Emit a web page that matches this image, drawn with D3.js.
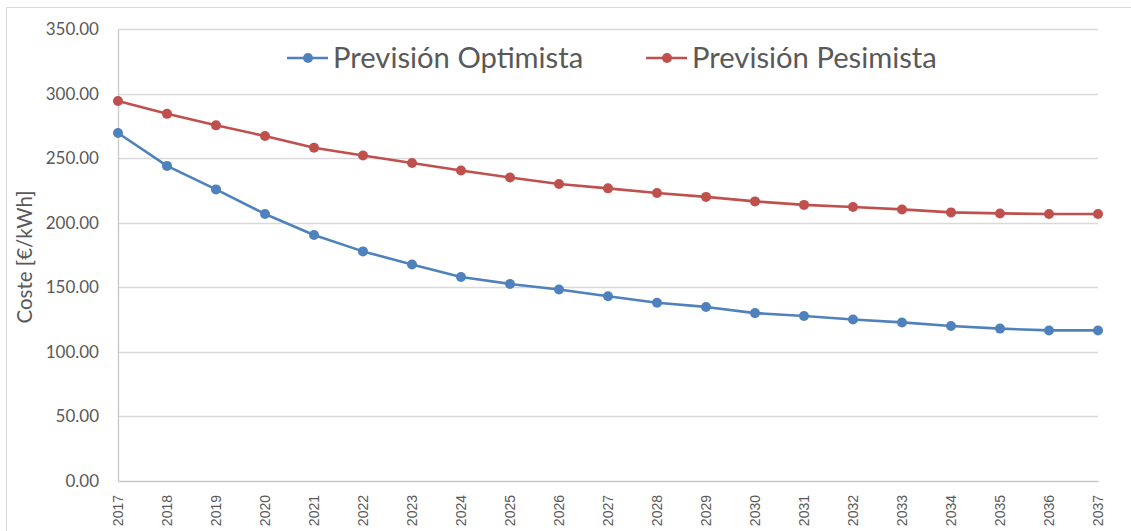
<!DOCTYPE html>
<html lang="es">
<head>
  <meta charset="UTF-8">
  <title>Previsión de coste</title>
  <script src="https://d3js.org/d3.v7.min.js"></script>
  <style>
    body { margin: 0; background: #fff; }
    svg { display: block; font-family: 'Lato', 'Open Sans', sans-serif; }
  </style>
</head>
<body>
  <svg width="1131" height="531"></svg>
  <script>
    // data
    const years = d3.range(2017, 2038).map(String);
    const optimista = [269.5, 244, 225.8, 206.8, 190.5, 177.8, 167.7, 158, 152.6, 148.3, 143, 138, 134.8, 130, 127.8, 125, 122.8, 120, 118, 116.6, 116.6];
    const pesimista = [294.3, 284.3, 275.4, 267.2, 258, 252, 246.3, 240.5, 235, 230, 226.6, 223, 220, 216.5, 213.8, 212.2, 210.3, 208, 207.2, 206.8, 206.8];
    const yTicks = [0, 50, 100, 150, 200, 250, 300, 350];
    const series = [
      { name: "Previsión Optimista", values: optimista, color: "#4f81bd" },
      { name: "Previsión Pesimista", values: pesimista, color: "#c0504d" }
    ];

    const svg = d3.select("svg");
    const margin = { left: 118, right: 33, top: 29, bottom: 50 };
    const width = 1131, height = 531;

    // outer frame
    svg.append("rect")
      .attr("x", 6.5).attr("y", 7.5)
      .attr("width", 1130).attr("height", 530)
      .attr("fill", "none").attr("stroke", "#d9d9d9");

    const x = d3.scalePoint().domain(years).range([margin.left, width - margin.right]);
    const y = d3.scaleLinear().domain([0, 350]).range([height - margin.bottom, margin.top]);

    // gridlines
    svg.append("g").selectAll("line")
      .data(yTicks.filter(d => d > 0))
      .join("line")
      .attr("x1", margin.left).attr("x2", width - margin.right)
      .attr("y1", d => Math.round(y(d)) + 0.5).attr("y2", d => Math.round(y(d)) + 0.5)
      .attr("stroke", "#d9d9d9").attr("stroke-width", 1.3);

    // y axis
    const yAxis = svg.append("g")
      .attr("transform", `translate(${margin.left},0)`)
      .call(d3.axisLeft(y).tickValues(yTicks).tickFormat(d3.format(".2f")).tickSize(0).tickPadding(19));
    yAxis.select(".domain").attr("stroke", "#c8c8c8").attr("stroke-width", 1.3);
    yAxis.selectAll("text").attr("fill", "#595959").attr("font-size", 17).attr("font-family", "'Lato', sans-serif");

    // x axis
    const xAxis = svg.append("g")
      .attr("transform", `translate(0,${y(0)})`)
      .call(d3.axisBottom(x).tickSize(0).tickPadding(0));
    xAxis.select(".domain").attr("stroke", "#c8c8c8").attr("stroke-width", 1.3);
    xAxis.selectAll("text")
      .attr("fill", "#595959").attr("font-size", 14).attr("font-family", "'Liberation Sans', Arial, sans-serif")
      .attr("transform", "rotate(-90)")
      .attr("text-anchor", "end")
      .attr("x", -14).attr("y", 0).attr("dy", "0.35em");

    // y title
    svg.append("text")
      .attr("transform", `translate(32,257) rotate(-90)`)
      .attr("text-anchor", "middle")
      .attr("fill", "#595959").attr("font-size", 20.5)
      .text("Coste [€/kWh]");

    // lines
    const line = d3.line().x((d, i) => x(years[i])).y(d => y(d));
    series.forEach(s => {
      svg.append("path")
        .datum(s.values)
        .attr("fill", "none").attr("stroke", s.color)
        .attr("stroke-width", 2.6).attr("stroke-linejoin", "round")
        .attr("d", line);
      svg.append("g").selectAll("circle")
        .data(s.values)
        .join("circle")
        .attr("cx", (d, i) => x(years[i])).attr("cy", d => y(d))
        .attr("r", 5).attr("fill", s.color);
    });

    // legend
    const legendPos = [287, 646];
    series.forEach((s, i) => {
      const g = svg.append("g").attr("transform", `translate(${legendPos[i]},58)`);
      g.append("line").attr("x1", 0).attr("x2", 41).attr("stroke", s.color).attr("stroke-width", 2.6);
      g.append("circle").attr("cx", 21).attr("r", 5).attr("fill", s.color);
      g.append("text").attr("x", 46).attr("dy", "0.35em")
        .attr("fill", "#595959").attr("font-size", 29.2)
        .text(s.name);
    });
  </script>
</body>
</html>
